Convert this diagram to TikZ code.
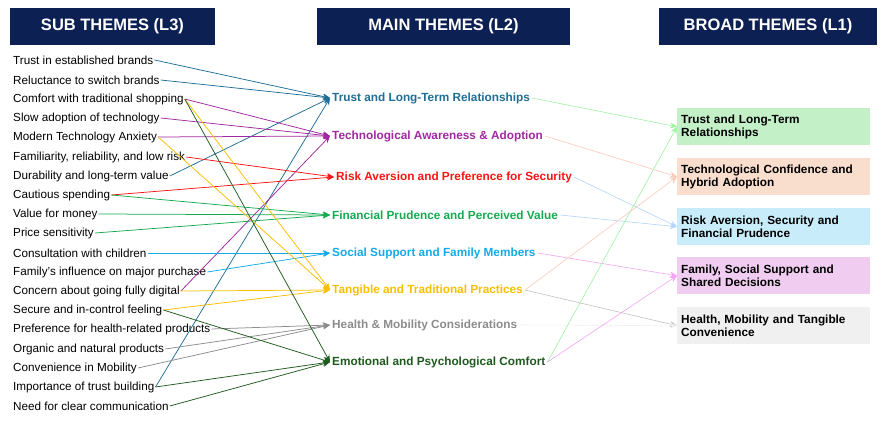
\documentclass[tikz,border=0pt]{standalone}
\usepackage{fontspec}
\setmainfont{Liberation Sans}
\usetikzlibrary{arrows.meta}
\definecolor{navy}{RGB}{12,32,84}
\definecolor{ctrust}{RGB}{30,110,150}
\definecolor{ctech}{RGB}{160,40,160}
\definecolor{crisk}{RGB}{250,20,20}
\definecolor{cfin}{RGB}{20,170,80}
\definecolor{csoc}{RGB}{20,170,230}
\definecolor{ctan}{RGB}{250,190,0}
\definecolor{chea}{RGB}{140,140,140}
\definecolor{cemo}{RGB}{30,90,30}
\definecolor{bgreen}{RGB}{196,240,200}
\definecolor{bpeach}{RGB}{250,222,205}
\definecolor{bblue}{RGB}{200,236,250}
\definecolor{bpink}{RGB}{240,205,240}
\definecolor{bgrey}{RGB}{240,240,240}
\begin{document}
\begin{tikzpicture}[x=1pt,y=-1pt,
 hdr/.style={fill=navy,text=white,font=\fontsize{16.5}{18}\selectfont\bfseries,minimum height=37pt,inner sep=0pt},
 sub/.style={anchor=west,inner sep=1pt,font=\fontsize{11.7}{13}\selectfont},
 mn/.style={anchor=west,inner sep=2pt,font=\fontsize{11.8}{13}\selectfont\bfseries},
 br/.style={anchor=north west,minimum width=193pt,minimum height=37pt,inner sep=4pt,font=\fontsize{11.8}{13.5}\selectfont\bfseries,align=left,text width=185pt},
 ar/.style={-{Stealth[length=7pt,width=6pt]},line width=0.75pt},
 ar2/.style={-{Stealth[length=7pt,width=6pt]},line width=0.6pt}]
\useasboundingbox (0,0) rectangle (886,425);
\node[hdr,minimum width=205pt] (h1) at (112.5,26.5) {SUB THEMES (L3)};
\node[hdr,minimum width=253pt] (h2) at (443.5,26.5) {MAIN THEMES (L2)};
\node[hdr,minimum width=218pt] (h3) at (768,26.5) {BROAD THEMES (L1)};
% sub themes
\foreach \n/\y/\t in {s1/60/Trust in established brands, s2/80/Reluctance to switch brands, s3/99/Comfort with traditional shopping, s4/118/Slow adoption of technology, s5/137/Modern Technology Anxiety, s6/157/{Familiarity, reliability, and low risk}, s7/176/Durability and long-term value, s8/195/Cautious spending, s9/214/Value for money, s10/233/Price sensitivity, s11/253/Consultation with children, s12/272/Family’s influence on major purchase, s13/291/Concern about going fully digital, s14/310/Secure and in-control feeling, s15/329/Preference for health-related products, s16/349/Organic and natural products, s17/368/Convenience in Mobility, s18/387/Importance of trust building, s19/406/Need for clear communication}
  \node[sub] (\n) at (12,\y) {\t};
% main themes
\node[mn,text=ctrust] (m1) at (330,98) {Trust and Long-Term Relationships};
\node[mn,text=ctech] (m2) at (330,136) {Technological Awareness \& Adoption};
\node[mn,text=crisk] (m3) at (334,177) {Risk Aversion and Preference for Security};
\node[mn,text=cfin] (m4) at (330,215) {Financial Prudence and Perceived Value};
\node[mn,text=csoc] (m5) at (330,253) {Social Support and Family Members};
\node[mn,text=ctan] (m6) at (330,290) {Tangible and Traditional Practices};
\node[mn,text=chea] (m7) at (330,325) {Health \& Mobility Considerations};
\node[mn,text=cemo] (m8) at (330,362) {Emotional and Psychological Comfort};
% broad
\node[br,fill=bgreen] (b1) at (677,108) {Trust and Long-Term\\Relationships};
\node[br,fill=bpeach] (b2) at (677,158) {Technological Confidence and\\Hybrid Adoption};
\node[br,fill=bblue] (b3) at (677,208) {Risk Aversion, Security and\\Financial Prudence};
\node[br,fill=bpink] (b4) at (677,257) {Family, Social Support and\\Shared Decisions};
\node[br,fill=bgrey] (b5) at (677,307) {Health, Mobility and Tangible\\Convenience};
% left connectors
\foreach \s in {s1,s2,s7,s18} \draw[ar,ctrust] (\s.east) -- (m1.west);
\foreach \s in {s3,s4,s5,s13} \draw[ar,ctech] (\s.east) -- (m2.west);
\foreach \s in {s6,s8} \draw[ar,crisk] (\s.east) -- (m3.west);
\foreach \s in {s8,s9,s10} \draw[ar,cfin] (\s.east) -- (m4.west);
\foreach \s in {s11,s12} \draw[ar,csoc] (\s.east) -- (m5.west);
\foreach \s in {s3,s5,s13,s14} \draw[ar,ctan] (\s.east) -- (m6.west);
\foreach \s in {s15,s16,s17} \draw[ar,chea] (\s.east) -- (m7.west);
\foreach \s in {s3,s14,s18,s19} \draw[ar,cemo] (\s.east) -- (m8.west);
% right connectors
\draw[ar2,bgreen!80!green] (m1.east) -- (b1.west);
\draw[ar2,bpeach!90!red] (m2.east) -- (b2.west);
\draw[ar2,bblue!90!blue] (m3.east) -- (b3.west);
\draw[ar2,bblue!90!blue] (m4.east) -- (b3.west);
\draw[ar2,bpink!80!magenta] (m5.east) -- (b4.west);
\draw[ar2,bpeach!90!red] (m6.east) -- (b2.west);
\draw[ar2,bgrey!80!black] (m6.east) -- (b5.west);
\draw[ar2,bgrey] (m7.east) -- (b5.west);
\draw[ar2,bgreen!80!green] (m8.east) -- (b1.west);
\draw[ar2,bpink!80!magenta] (m8.east) -- (b4.west);
\end{tikzpicture}
\end{document}
